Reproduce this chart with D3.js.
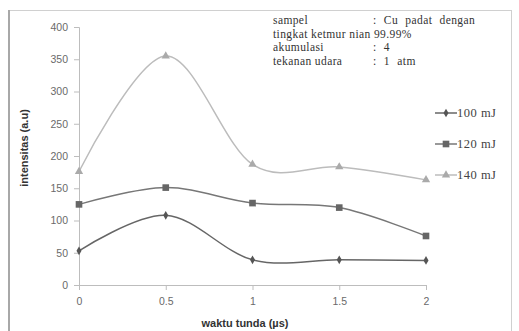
<!DOCTYPE html>
<html lang="en">
<head>
<meta charset="UTF-8">
<title>intensitas vs waktu tunda</title>
<script src="https://d3js.org/d3.v7.min.js"></script>
<style>
  body { margin: 0; background: #fff; }
</style>
</head>
<body>
<div id="my_dataviz"></div>
<script>
// data
var delays = [0, 0.5, 1, 1.5, 2];
var mj100 = [53, 108, 39, 39, 38];
var mj120 = [125, 151, 127, 120, 76];
var mj140 = [176, 355, 187, 183, 163];
var seriesNames = ["100 mJ", "120 mJ", "140 mJ"];
var xTicks = [0, 0.5, 1, 1.5, 2];
var yTicks = [0, 50, 100, 150, 200, 250, 300, 350, 400];
var noteRows = [
  ["sampel", ": Cu padat dengan"],
  ["tingkat ketmur nian 99.99%", ""],
  ["akumulasi", ": 4"],
  ["tekanan udara", ": 1 atm"]
];

var W = 519, H = 331;
var svg = d3.select("#my_dataviz").append("svg")
  .attr("width", W).attr("height", H);

// chart frame
svg.append("rect")
  .attr("x", 9.5).attr("y", 10.5).attr("width", 502).attr("height", 330)
  .attr("fill", "none").attr("stroke", "#d0d0d0");
svg.append("line")
  .attr("x1", 9).attr("x2", 9).attr("y1", 10).attr("y2", H)
  .attr("stroke", "#a8a8a8").attr("stroke-width", 2);

var x = d3.scaleLinear().domain([0, 2]).range([79, 426]);
var y = d3.scaleLinear().domain([0, 400]).range([285, 27]);

// axes
var yAxis = svg.append("g")
  .attr("transform", "translate(79,0)")
  .call(d3.axisLeft(y).tickValues(yTicks).tickSize(5).tickPadding(6));
var xAxis = svg.append("g")
  .attr("transform", "translate(0,285)")
  .call(d3.axisBottom(x).tickValues(xTicks).tickSize(5).tickPadding(8)
    .tickFormat(function(d){ return d3.format("")(d) }));
[xAxis, yAxis].forEach(function(a) {
  a.select(".domain").attr("stroke", "#bdbdbd");
  a.selectAll(".tick line").attr("stroke", "#bdbdbd");
  a.selectAll("text")
    .attr("fill", "#6a6a6a")
    .style("font-family", "Liberation Sans, Arial, sans-serif")
    .style("font-size", "10.5px");
});

// axis titles
svg.append("text")
  .attr("x", 245).attr("y", 327)
  .attr("text-anchor", "middle")
  .style("font-family", "Liberation Sans, Arial, sans-serif")
  .style("font-size", "11px").style("font-weight", "bold")
  .attr("fill", "#333")
  .text("waktu tunda (µs)");
svg.append("text")
  .attr("transform", "translate(28,148) rotate(-90)")
  .attr("text-anchor", "middle")
  .style("font-family", "Liberation Sans, Arial, sans-serif")
  .style("font-size", "11px").style("font-weight", "bold")
  .attr("fill", "#333")
  .text("intensitas (a.u)");

var series = [
  { name: seriesNames[0], values: mj100, line: "#666", mark: "#555", shape: d3.symbolDiamond, size: 22 },
  { name: seriesNames[1], values: mj120, line: "#777", mark: "#666", shape: d3.symbolSquare, size: 44 },
  { name: seriesNames[2], values: mj140, line: "#bcbcbc", mark: "#aaa", shape: d3.symbolTriangle, size: 30 }
];

var line = d3.line()
  .x(function(d, i){ return x(delays[i]) })
  .y(function(d){ return y(d) })
  .curve(d3.curveCardinal.tension(0));

series.forEach(function(s) {
  svg.append("path")
    .datum(s.values)
    .attr("d", line)
    .attr("fill", "none")
    .attr("stroke", s.line)
    .attr("stroke-width", 1.5);
  svg.selectAll(null)
    .data(s.values)
    .enter()
    .append("path")
      .attr("d", d3.symbol().type(s.shape).size(s.size))
      .attr("transform", function(d, i){ return "translate(" + x(delays[i]) + "," + y(d) + ")" })
      .attr("fill", s.mark);
});

// legend
var legend = svg.selectAll(".leg")
  .data(series)
  .enter()
  .append("g")
    .attr("transform", function(d, i){ return "translate(435," + (113 + i * 31) + ")" });
legend.append("line")
  .attr("x1", 0).attr("x2", 22)
  .attr("stroke", function(d){ return d.line })
  .attr("stroke-width", 1.5);
legend.append("path")
  .attr("d", function(d){ return d3.symbol().type(d.shape).size(d.size)() })
  .attr("transform", "translate(11,0)")
  .attr("fill", function(d){ return d.mark });
legend.append("text")
  .attr("x", 22).attr("y", 4)
  .style("font-family", "Liberation Serif, Times New Roman, serif")
  .style("font-size", "12.5px")
  .style("letter-spacing", "0.5px")
  .attr("fill", "#444")
  .text(function(d){ return d.name });

// note box text
var notes = svg.selectAll(".note")
  .data(noteRows)
  .enter()
  .append("g")
    .attr("transform", function(d, i){ return "translate(273," + (24 + i * 13.5) + ")" })
    .style("font-family", "Liberation Serif, Times New Roman, serif")
    .style("font-size", "11.5px")
    .style("letter-spacing", "0.4px")
    .attr("fill", "#333");
notes.append("text").text(function(d){ return d[0] });
notes.append("text").attr("x", 100)
  .style("word-spacing", "4px")
  .text(function(d){ return d[1] });
</script>
</body>
</html>
